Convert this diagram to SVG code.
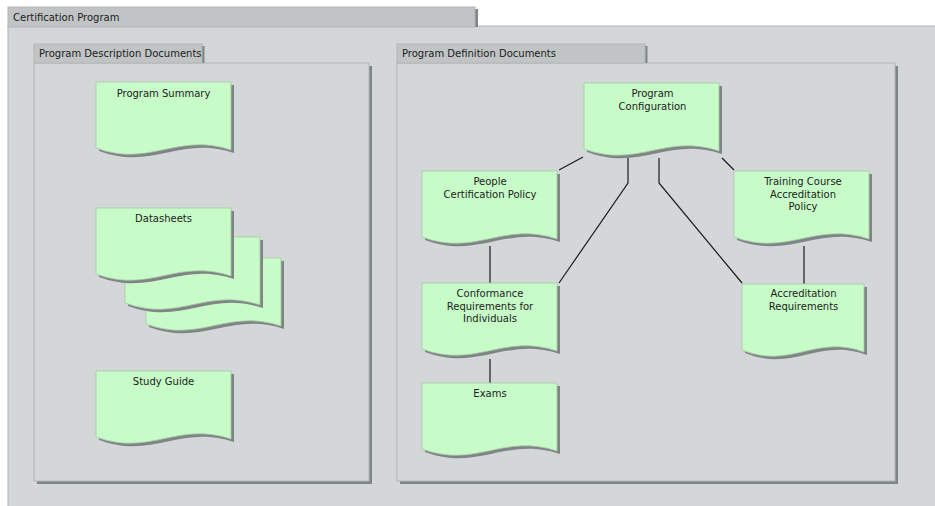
<svg xmlns="http://www.w3.org/2000/svg" xmlns:xlink="http://www.w3.org/1999/xlink" width="935" height="506" viewBox="0 0 935 506">
<style>
  .bg{fill:#d3d7d7;stroke:#b2b6b6;stroke-width:1}
  .tab{fill:#c0c4c4;stroke:#b2b6b6;stroke-width:1}
  .psh{fill:#7f8484}
  .doc{fill:#c7fbc7;stroke:#a9c8a9;stroke-width:0.8}
  .dsh{fill:#7f8484}
  .t{font-family:"DejaVu Sans","Liberation Sans",sans-serif;font-size:10px;fill:#1c1c1c}
  .c{text-anchor:middle}
  .conn{fill:none;stroke:#1c1c1c;stroke-width:1.2}
</style>
<defs>
  <path id="doc" d="M0,0 H135 V68 C81,50 54,86 0,66 Z"/>
  <path id="docN" d="M0,0 H122 V68 C73,50 49,86 0,66 Z"/>
</defs>

<g id="frame-certification-program">
  <rect x="8" y="26" width="940" height="490" class="bg"/>
  <rect x="475" y="9" width="3" height="18" class="psh"/>
  <rect x="8" y="7" width="467" height="20" class="tab"/>
  <text x="13" y="21" class="t">Certification Program</text>
</g>

<g id="panel-description">
  <rect x="37" y="66" width="335" height="418" class="psh"/>
  <rect x="34" y="63" width="335" height="418" class="bg"/>
  <rect x="202" y="46" width="2.5" height="17" class="psh"/>
  <rect x="34" y="44" width="168" height="19" class="tab"/>
  <text x="39" y="57" class="t">Program Description Documents</text>
</g>

<g id="panel-definition">
  <rect x="400" y="66" width="498" height="418" class="psh"/>
  <rect x="397" y="63" width="498" height="418" class="bg"/>
  <rect x="645" y="46" width="2.5" height="17" class="psh"/>
  <rect x="397" y="44" width="248" height="19" class="tab"/>
  <text x="402" y="57" class="t">Program Definition Documents</text>
</g>

<g id="connectors">
  <line x1="583" y1="157" x2="559" y2="170" class="conn"/>
  <polyline points="628,158 628,183 559,283" class="conn"/>
  <polyline points="659,158 659,183 742,283" class="conn"/>
  <line x1="722" y1="158" x2="734" y2="170" class="conn"/>
  <line x1="804" y1="246" x2="804" y2="284" class="conn"/>
  <line x1="490" y1="246" x2="490" y2="283" class="conn"/>
  <line x1="490" y1="359" x2="490" y2="383" class="conn"/>
</g>

<g id="n-program-summary" transform="translate(96,82)">
  <use xlink:href="#doc" href="#doc" class="dsh" transform="translate(3,3)"/>
  <use xlink:href="#doc" href="#doc" class="doc"/>
  <text x="67.5" y="15" class="t c">Program Summary</text>
</g>

<g id="n-datasheets">
  <g transform="translate(146,258)">
    <use xlink:href="#doc" href="#doc" class="dsh" transform="translate(3,3)"/>
    <use xlink:href="#doc" href="#doc" class="doc"/>
  </g>
  <g transform="translate(125,237)">
    <use xlink:href="#doc" href="#doc" class="dsh" transform="translate(3,3)"/>
    <use xlink:href="#doc" href="#doc" class="doc"/>
  </g>
  <g transform="translate(96,208)">
    <use xlink:href="#doc" href="#doc" class="dsh" transform="translate(3,3)"/>
    <use xlink:href="#doc" href="#doc" class="doc"/>
    <text x="67.5" y="14" class="t c">Datasheets</text>
  </g>
</g>

<g id="n-study-guide" transform="translate(96,371)">
  <use xlink:href="#doc" href="#doc" class="dsh" transform="translate(3,3)"/>
  <use xlink:href="#doc" href="#doc" class="doc"/>
  <text x="67.5" y="14" class="t c">Study Guide</text>
</g>

<g id="n-program-configuration" transform="translate(584,83)">
  <use xlink:href="#doc" href="#doc" class="dsh" transform="translate(3,3)"/>
  <use xlink:href="#doc" href="#doc" class="doc"/>
  <text x="68.5" y="14" class="t c">Program</text>
  <text x="68.5" y="26.5" class="t c">Configuration</text>
</g>

<g id="n-people-certification-policy" transform="translate(422,171)">
  <use xlink:href="#doc" href="#doc" class="dsh" transform="translate(3,3)"/>
  <use xlink:href="#doc" href="#doc" class="doc"/>
  <text x="68" y="14" class="t c">People</text>
  <text x="68" y="26.5" class="t c">Certification Policy</text>
</g>

<g id="n-training-course-accreditation-policy" transform="translate(734,171)">
  <use xlink:href="#doc" href="#doc" class="dsh" transform="translate(3,3)"/>
  <use xlink:href="#doc" href="#doc" class="doc"/>
  <text x="69" y="14" class="t c">Training Course</text>
  <text x="69" y="26.5" class="t c">Accreditation</text>
  <text x="69" y="39" class="t c">Policy</text>
</g>

<g id="n-conformance-requirements" transform="translate(422,283)">
  <use xlink:href="#doc" href="#doc" class="dsh" transform="translate(3,3)"/>
  <use xlink:href="#doc" href="#doc" class="doc"/>
  <text x="68" y="14" class="t c">Conformance</text>
  <text x="68" y="26.5" class="t c">Requirements for</text>
  <text x="68" y="39" class="t c">Individuals</text>
</g>

<g id="n-exams" transform="translate(422,383)">
  <use xlink:href="#doc" href="#doc" class="dsh" transform="translate(3,3)"/>
  <use xlink:href="#doc" href="#doc" class="doc"/>
  <text x="68" y="14" class="t c">Exams</text>
</g>

<g id="n-accreditation-requirements" transform="translate(742,284)">
  <use xlink:href="#docN" href="#docN" class="dsh" transform="translate(3,3)"/>
  <use xlink:href="#docN" href="#docN" class="doc"/>
  <text x="61.5" y="13" class="t c">Accreditation</text>
  <text x="61.5" y="25.5" class="t c">Requirements</text>
</g>
</svg>
